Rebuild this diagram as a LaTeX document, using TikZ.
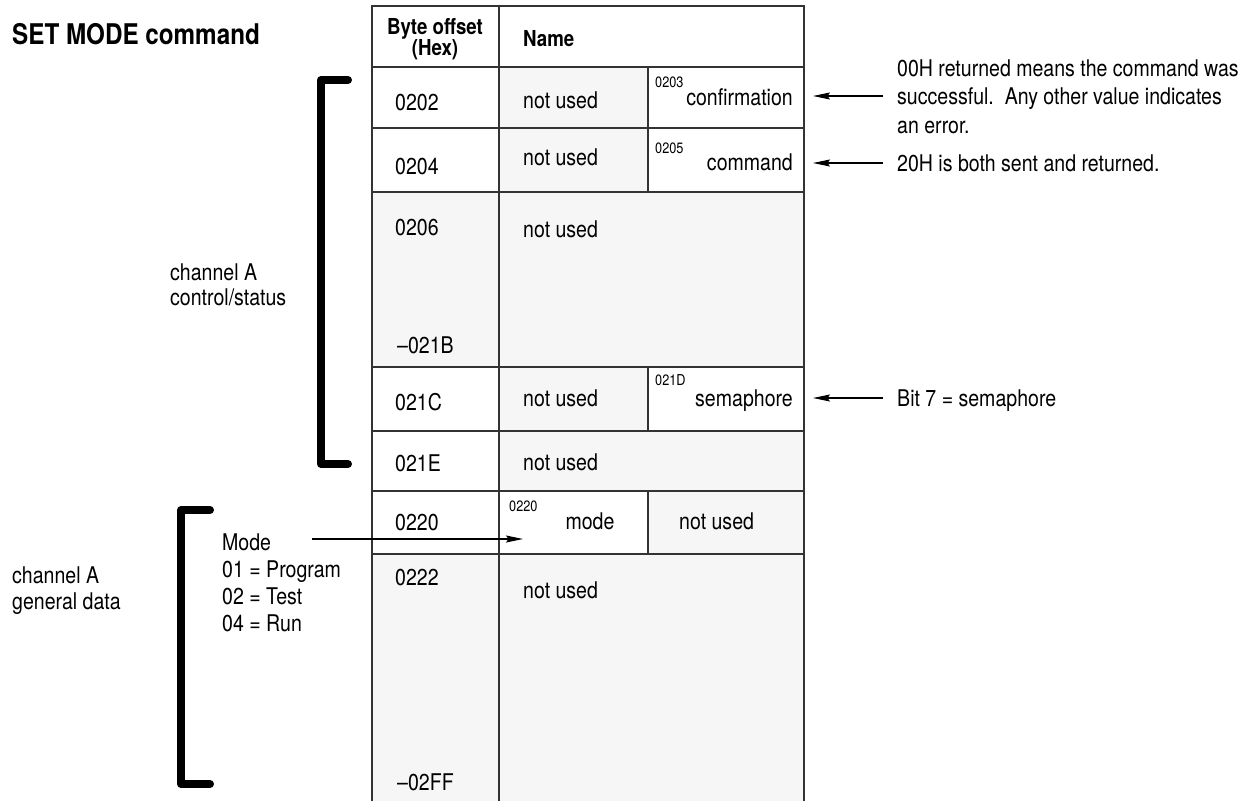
\documentclass[tikz,border=0pt]{standalone}
\usepackage{fontspec}
\setmainfont{TeX Gyre Heros}[FakeStretch=0.85]
\usetikzlibrary{arrows.meta}
\definecolor{nu}{gray}{0.965}
\definecolor{ln}{gray}{0.2}
\tikzset{
 txt/.style={inner sep=0pt, font=\fontsize{23}{28}\selectfont, anchor=base west},
 txtr/.style={txt, anchor=base east},
 txtc/.style={txt, anchor=base},
 sm/.style={inner sep=0pt, font=\fontsize{15}{17}\selectfont, anchor=base west},
 hdr/.style={inner sep=0pt, font=\bfseries\fontsize{22}{24}\selectfont, anchor=base},
 ttl/.style={inner sep=0pt, font=\bfseries\fontsize{28.5}{30}\selectfont, anchor=base west},
 gridline/.style={draw=ln, line width=1.3pt},
 brk/.style={line width=8pt, line cap=round, line join=round},
 arr/.style={line width=1.2pt, -{Stealth[length=17pt,width=7pt,inset=2.5pt]}},
}
\begin{document}
\begin{tikzpicture}[x=1pt,y=-1pt]
\useasboundingbox (0,0) rectangle (1257,800);
% fills
\fill[nu] (499,67) rectangle (648,192);
\fill[nu] (372,192) rectangle (804,367);
\fill[nu] (499,367) rectangle (648,431);
\fill[nu] (499,431) rectangle (804,491);
\fill[nu] (648,491) rectangle (804,554);
\fill[nu] (372,554) rectangle (804,801);
% grid
\draw[gridline] (372,802) -- (372,6) -- (804,6) -- (804,802);
\draw[gridline] (499,6) -- (499,802);
\foreach \yy in {67,128,192,367,431,491,554} \draw[gridline] (372,\yy) -- (804,\yy);
\draw[gridline] (648,67) -- (648,192);
\draw[gridline] (648,367) -- (648,431);
\draw[gridline] (648,491) -- (648,554);
% title and header
\node[ttl] (title) at (12,45) {SET MODE command};
\node[hdr] (h1) at (435,35) {Byte offset};
\node[hdr] (h2) at (435,56) {(Hex)};
\node[hdr, anchor=base west] (h3) at (523,47) {Name};
% row 0202
\node[txt] (o1) at (395,110) {0202};
\node[txt] (n1) at (523,108) {not used};
\node[sm] (s1) at (655,87) {0203};
\node[txtr] (c1) at (793,105) {confirmation};
% row 0204
\node[txt] (o2) at (395,174) {0204};
\node[txt] (n2) at (523,165) {not used};
\node[sm] (s2) at (655,153) {0205};
\node[txtr] (c2) at (793,170) {command};
% row 0206
\node[txt] (o3) at (395,235) {0206};
\node[txt] (n3) at (523,237) {not used};
\node[txt] (o3b) at (397,353) {–021B};
% row 021C
\node[txt] (o4) at (395,410) {021C};
\node[txt] (n4) at (523,406) {not used};
\node[sm] (s4) at (655,385) {021D};
\node[txtr] (c4) at (793,406) {semaphore};
% row 021E
\node[txt] (o5) at (395,471) {021E};
\node[txt] (n5) at (523,470) {not used};
% row 0220
\node[txt] (o6) at (395,530) {0220};
\node[sm] (s6) at (509,511) {0220};
\node[txtc] (c6) at (590,529) {mode};
\node[txt] (n6) at (679,529) {not used};
% row 0222
\node[txt] (o7) at (395,585) {0222};
\node[txt] (n7) at (523,598) {not used};
\node[txt] (o7b) at (397,790) {–02FF};
% brackets
\draw[brk] (348,80) -- (321,80) -- (321,464) -- (348,464);
\draw[brk] (210,510) -- (181,510) -- (181,784) -- (210,784);
% left labels
\node[txt] (l1) at (170,280) {channel A};
\node[txt] (l2) at (170,305) {control/status};
\node[txt] (l3) at (12,583) {channel A};
\node[txt] (l4) at (12,609) {general data};
\node[txt] (m0) at (222,550) {Mode};
\node[txt] (m1) at (222,577) {01 = Program};
\node[txt] (m2) at (222,604) {02 = Test};
\node[txt] (m3) at (222,631) {04 = Run};
\coordinate (ma) at (312,539);
\coordinate (mb) at (523,539);
\draw[arr] (ma) -- (mb);
% right notes
\node[txt] (r1) at (897,76) {00H returned means the command was};
\node[txt] (r2) at (897,104) {successful.\ \ Any other value indicates};
\node[txt] (r3) at (897,133) {an error.};
\node[txt] (r4) at (897,171) {20H is both sent and returned.};
\node[txt] (r5) at (897,406) {Bit 7 = semaphore};
\coordinate (a1) at (883,96);  \coordinate (b1) at (813,96);
\coordinate (a2) at (883,163); \coordinate (b2) at (813,163);
\coordinate (a3) at (883,398); \coordinate (b3) at (813,398);
\draw[arr] (a1) -- (b1);
\draw[arr] (a2) -- (b2);
\draw[arr] (a3) -- (b3);
\end{tikzpicture}
\end{document}
